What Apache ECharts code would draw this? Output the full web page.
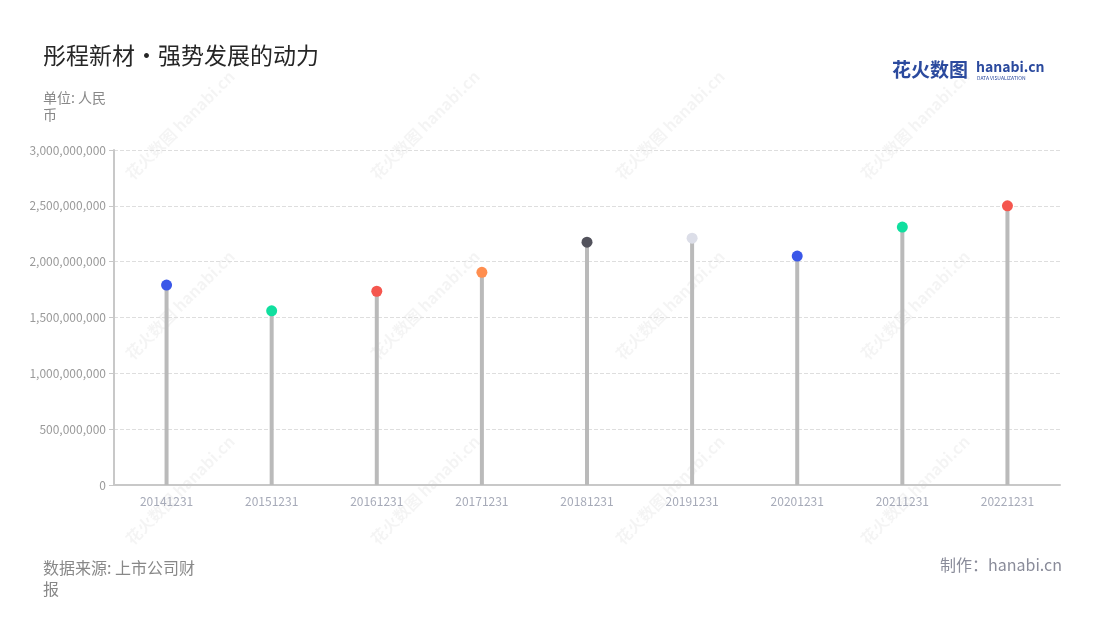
<!DOCTYPE html>
<html>
<head>
<meta charset="utf-8">
<script src="https://cdn.jsdelivr.net/npm/echarts@6/dist/echarts.min.js"></script>
<style>
html,body{margin:0;padding:0;background:#fff;}
#main{width:1100px;height:620px;}
</style>
</head>
<body>
<div id="main"></div>
<script>
const categories = ['20141231','20151231','20161231','20171231','20181231','20191231','20201231','20211231','20221231'];
const values = [1790000000, 1560000000, 1735000000, 1905000000, 2175000000, 2210000000, 2050000000, 2310000000, 2500000000];
const pointColors = ['#3a57e8','#10df9f','#f5564e','#ff8e4f','#52525c','#dcdee8','#3a57e8','#10df9f','#f5564e'];
const yTicks = [0, 500000000, 1000000000, 1500000000, 2000000000, 2500000000, 3000000000];

const FONT = '"Noto Sans CJK SC", "Noto Sans", sans-serif';
const chart = echarts.init(document.getElementById('main'));

const watermarks = [];
[180, 425, 670, 915].forEach(function(cx){
  [125, 305, 490].forEach(function(cy){
    watermarks.push({
      type: 'text', x: cx, y: cy, rotation: Math.PI/4, z: 0, silent: true,
      style: { text: '花火数图 hanabi.cn', fill: 'rgba(0,0,0,0.045)', font: 'bold 16px ' + FONT, align: 'center', verticalAlign: 'middle' }
    });
  });
});

chart.setOption({
  backgroundColor: '#fff',
  animation: false,
  grid: { left: 114, right: 40, top: 150, bottom: 135 },
  title: [
    { text: '彤程新材·强势发展的动力', left: 38, top: 39, textStyle: { fontFamily: FONT, fontSize: 23, fontWeight: 'normal', color: '#262626' } },
    { text: '单位: 人民\n币', left: 38, top: 84, textStyle: { fontFamily: FONT, fontSize: 14, fontWeight: 'normal', color: '#888', lineHeight: 17 } },
    { text: '数据来源: 上市公司财\n报', left: 38, top: 552, textStyle: { fontFamily: FONT, fontSize: 16, fontWeight: 'normal', color: '#888', lineHeight: 21 } },
    { text: '制作：hanabi.cn', right: 33, top: 552, textStyle: { fontFamily: FONT, fontSize: 16, fontWeight: 'normal', color: '#8a8c9a' } }
  ],
  graphic: watermarks.concat([
    { type: 'text', left: 892, top: 60, style: { text: '花火数图', fill: '#2b4a9e', font: 'bold 19px ' + FONT } },
    { type: 'text', left: 976, top: 60, style: { text: 'hanabi.cn', fill: '#2b4a9e', font: 'bold 14px ' + FONT } },
    { type: 'text', left: 977, top: 76, style: { text: 'DATA VISUALIZATION', fill: '#2b4a9e', font: '5px ' + FONT } }
  ]),
  xAxis: {
    type: 'category',
    data: categories,
    axisLine: { lineStyle: { color: '#c8c8c8', width: 2 } },
    axisTick: { alignWithLabel: true, lineStyle: { color: '#c8c8c8' } },
    axisLabel: { color: '#a6aab8', fontSize: 12, fontFamily: FONT, margin: 10 }
  },
  yAxis: {
    type: 'value',
    min: yTicks[0],
    max: yTicks[yTicks.length - 1],
    interval: yTicks[1] - yTicks[0],
    axisLine: { show: true, lineStyle: { color: '#c8c8c8', width: 2 } },
    axisTick: { show: true, lineStyle: { color: '#c8c8c8' } },
    axisLabel: { color: '#9a9a9a', fontSize: 12, fontFamily: FONT, formatter: function(v){ return v.toLocaleString('en-US'); } },
    splitLine: { lineStyle: { color: '#dedede', type: 'dashed' } }
  },
  series: [
    {
      type: 'bar',
      data: values,
      barWidth: 4,
      itemStyle: { color: '#bababa' },
      silent: true
    },
    {
      type: 'scatter',
      data: values.map(function(v, i){ return { value: v, itemStyle: { color: pointColors[i], opacity: 1 } }; }),
      symbolSize: 11,
      z: 5
    }
  ]
});
</script>
</body>
</html>
